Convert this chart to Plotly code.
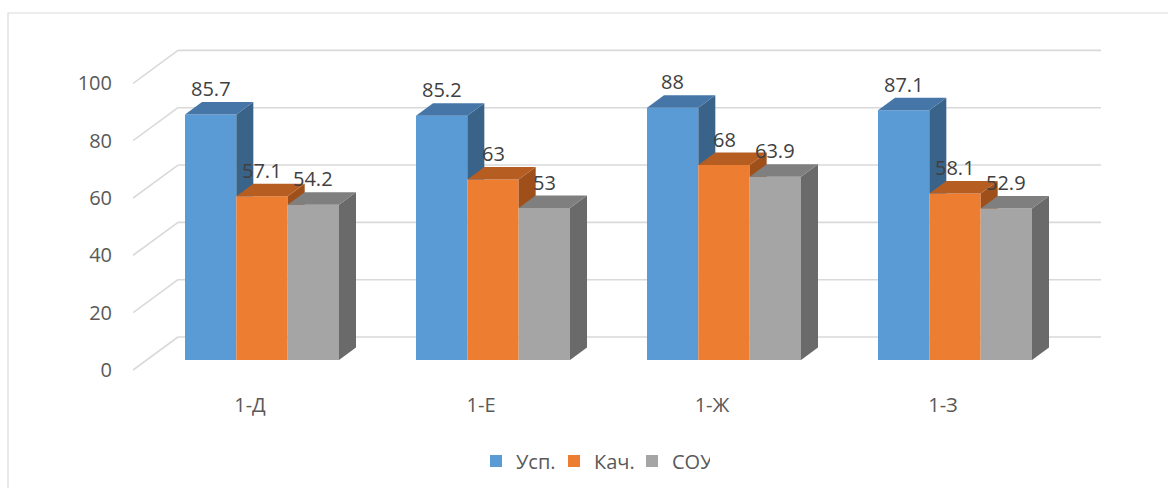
import plotly.graph_objects as go

# ---------------- data ----------------
categories = ["1-Д", "1-Е", "1-Ж", "1-З"]
series_names = ["Усп.", "Кач.", "СОУ"]
usp = [85.7, 85.2, 88, 87.1]
kach = [57.1, 63, 68, 58.1]
sou = [54.2, 53, 63.9, 52.9]
y_ticks = [0, 20, 40, 60, 80, 100]

# ---------------- styles ----------------
FRONT = ["#5B9BD5", "#ED7D31", "#A5A5A5"]
TOP = ["#4676A8", "#B65D22", "#7F7F7F"]
SIDE = ["#3A6389", "#9E4F1A", "#6A6A6A"]
TEXT = "#595959"
LABEL_TEXT = "#404040"
GRID = "#D9D9D9"
FONT = "Open Sans"
FSIZE = 20

# ---------------- geometry (pixels) ----------------
W, H = 1168, 488
PLOT_L, PLOT_R, PLOT_T, PLOT_B = 133, 1101, 30, 385
CAT_PX = 231          # distance between category centres
FIRST_CAT_PX = 262    # centre of first category
BASE_PX = 360         # pixel row of value 0 at the bars' front
PX_PER_UNIT = 2.866
DEPTH_DX, DEPTH_DY = 17, 12.5   # bar depth
FRONT_DROP = 10       # front plane sits lower than bar base
BACK_RISE = 23        # back wall sits higher than bar base
WALL_DX = 45          # horizontal depth of side wall
LABEL_LIFT = 26
BARGAP = 1 / 3


def px_to_x(px):
    return (px - FIRST_CAT_PX) / CAT_PX


def px_to_y(py):
    return (BASE_PX - py) / PX_PER_UNIT


xr = [px_to_x(PLOT_L), px_to_x(PLOT_R)]
yr = [px_to_y(PLOT_B), px_to_y(PLOT_T)]
dxu = DEPTH_DX / CAT_PX
dyu = DEPTH_DY / PX_PER_UNIT
front_off = FRONT_DROP / PX_PER_UNIT
back_off = BACK_RISE / PX_PER_UNIT
wall_x = px_to_x(PLOT_L + WALL_DX)


def clip_above(poly, ymin):
    """Keep the part of polygon with y >= ymin (Sutherland-Hodgman)."""
    out = []
    n = len(poly)
    for j in range(n):
        p, q = poly[j], poly[(j + 1) % n]
        pin, qin = p[1] >= ymin, q[1] >= ymin
        if pin:
            out.append(p)
        if pin != qin:
            t = (ymin - p[1]) / (q[1] - p[1])
            out.append((p[0] + t * (q[0] - p[0]), ymin))
    return out


series = [usp, kach, sou]
xs = list(range(len(categories)))
fig = go.Figure()

# back-wall gridlines and side-wall diagonals (drawn beneath the bars)
shapes = []
for v in y_ticks:
    shapes.append(dict(type="line", xref="x", yref="y", x0=xr[0], y0=v - front_off,
                       x1=wall_x, y1=v + back_off, line=dict(color=GRID, width=1.6), layer="below"))
    shapes.append(dict(type="line", xref="x", yref="y", x0=wall_x, y0=v + back_off,
                       x1=xr[1], y1=v + back_off, line=dict(color=GRID, width=1.6), layer="below"))

# front faces
for k, (name, vals) in enumerate(zip(series_names, series)):
    fig.add_trace(go.Bar(x=xs, y=vals, name=name, marker=dict(color=FRONT[k], line=dict(width=0)),
                         hoverinfo="skip"))

# top and side faces
w = (1 - BARGAP) / len(series)
annotations = []
for i in xs:
    for k, vals in enumerate(series):
        v = vals[i]
        left = i - (1 - BARGAP) / 2 + k * w
        right = left + w
        side = [(right, 0), (right + dxu, dyu), (right + dxu, v + dyu), (right, v)]
        if k + 1 < len(series):
            side = clip_above(side, series[k + 1][i])
        if side:
            fig.add_trace(go.Scatter(x=[p[0] for p in side], y=[p[1] for p in side], fill="toself",
                                     fillcolor=SIDE[k], mode="lines", line=dict(width=0),
                                     hoverinfo="skip", showlegend=False))
        top = [(left, v), (right, v), (right + dxu, v + dyu), (left + dxu, v + dyu)]
        fig.add_trace(go.Scatter(x=[p[0] for p in top], y=[p[1] for p in top], fill="toself",
                                 fillcolor=TOP[k], mode="lines", line=dict(width=0),
                                 hoverinfo="skip", showlegend=False))
        annotations.append(dict(x=(left + right) / 2, y=v, text=f"{v:g}", showarrow=False,
                                yshift=LABEL_LIFT, xanchor="center", yanchor="middle",
                                font=dict(family=FONT, size=FSIZE, color=LABEL_TEXT)))

plot_w = PLOT_R - PLOT_L
plot_h = PLOT_B - PLOT_T


def px_paper_x(px):
    return (px - PLOT_L) / plot_w


def px_paper_y(py):
    return (PLOT_B - py) / plot_h


shapes.append(dict(type="rect", xref="paper", yref="paper",
                   x0=px_paper_x(8), x1=px_paper_x(W + 20), y0=px_paper_y(H + 20), y1=px_paper_y(13),
                   line=dict(color=GRID, width=1.2), fillcolor="rgba(0,0,0,0)", layer="below"))

fig.update_layout(
    width=W, height=H,
    margin=dict(l=PLOT_L, r=W - PLOT_R, t=PLOT_T, b=H - PLOT_B, pad=0, autoexpand=False),
    paper_bgcolor="white", plot_bgcolor="rgba(0,0,0,0)",
    barmode="group", bargap=BARGAP, bargroupgap=0,
    font=dict(family=FONT, size=FSIZE, color=TEXT),
    xaxis=dict(range=xr, tickvals=xs, ticktext=categories, showgrid=False, zeroline=False,
               showline=False, ticks="", ticklabelshift=-12, ticklabelstandoff=6, fixedrange=True),
    yaxis=dict(range=yr, showgrid=False, zeroline=False, showticklabels=False, ticks="",
               fixedrange=True),
    yaxis2=dict(range=[yr[0] + front_off, yr[1] + front_off], overlaying="y", side="left",
                tickvals=y_ticks, showgrid=False, zeroline=False, showline=False, ticks="",
                ticklabelstandoff=20, fixedrange=True),
    legend=dict(orientation="h", x=px_paper_x(593), xanchor="center",
                y=px_paper_y(461), yanchor="middle", font=dict(size=FSIZE),
                entrywidth=33, entrywidthmode="pixels",
                bgcolor="rgba(0,0,0,0)"),
    annotations=annotations,
    shapes=shapes,
)
# dummy trace so yaxis2 is shown
fig.add_trace(go.Scatter(x=[None], y=[None], yaxis="y2", showlegend=False, hoverinfo="skip"))

fig.write_html("out.html", config={"displayModeBar": False},
               post_script="document.body.style.margin='0';")
